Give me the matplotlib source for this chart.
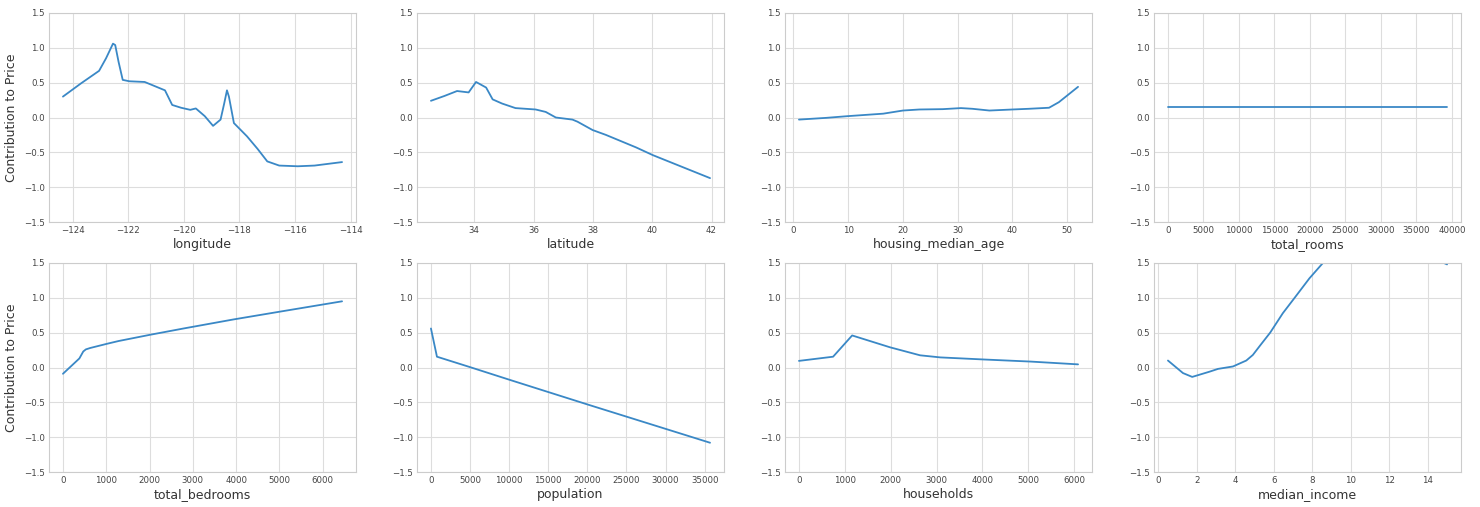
import matplotlib
matplotlib.use("Agg")
import matplotlib.pyplot as plt

# ---- data ----
longitude_x = [-124.35, -123.7, -123.05, -122.8, -122.55, -122.47, -122.35, -122.2, -121.96,
               -121.41, -120.68, -120.42, -120.1, -119.77, -119.57, -119.25, -118.95, -118.68,
               -118.55, -118.45, -118.38, -118.2, -117.73, -117.35, -117.0, -116.57, -115.9,
               -115.3, -114.31]
longitude_y = [0.30, 0.49, 0.67, 0.85, 1.06, 1.04, 0.80, 0.54, 0.52,
               0.51, 0.39, 0.18, 0.14, 0.11, 0.13, 0.02, -0.12, -0.03,
               0.20, 0.39, 0.30, -0.08, -0.27, -0.45, -0.63, -0.69, -0.70,
               -0.69, -0.64]

latitude_x = [32.54, 33.0, 33.42, 33.81, 34.06, 34.40, 34.62, 34.94, 35.39, 36.07, 36.41,
              36.75, 37.31, 37.48, 37.99, 38.44, 39.46, 40.02, 41.95]
latitude_y = [0.24, 0.31, 0.38, 0.36, 0.51, 0.43, 0.26, 0.20, 0.135, 0.115, 0.08,
              0.00, -0.03, -0.06, -0.18, -0.25, -0.43, -0.54, -0.87]

age_x = [1, 6, 10, 16.4, 20, 23, 27.3, 30.6, 32.7, 35.8, 40, 43, 46.7, 48.5, 52]
age_y = [-0.03, -0.005, 0.02, 0.055, 0.10, 0.115, 0.12, 0.135, 0.125, 0.10, 0.115, 0.125, 0.14, 0.22, 0.44]

rooms_x = [2, 39320]
rooms_y = [0.15, 0.15]

bedrooms_x = [1, 380, 470, 530, 630, 1015, 1285, 2015, 2785, 3940, 5090, 6445]
bedrooms_y = [-0.09, 0.13, 0.23, 0.26, 0.28, 0.34, 0.38, 0.47, 0.56, 0.69, 0.81, 0.95]

population_x = [3, 770, 5010, 10150, 20000, 35682]
population_y = [0.56, 0.155, 0.005, -0.18, -0.53, -1.08]

households_x = [1, 745, 1160, 1985, 2640, 3080, 4030, 5050, 6082]
households_y = [0.095, 0.155, 0.46, 0.29, 0.175, 0.145, 0.115, 0.085, 0.045]

income_x = [0.5, 1.28, 1.76, 2.66, 3.1, 3.88, 4.57, 4.91, 5.3, 5.81, 6.47, 7.08, 7.85, 8.55,
            10.0, 12.0, 14.0, 14.6, 15.0]
income_y = [0.10, -0.08, -0.135, -0.06, -0.02, 0.015, 0.10, 0.18, 0.32, 0.50, 0.78, 1.00, 1.28,
            1.50, 2.0, 2.1, 1.8, 1.53, 1.48]

features = ["longitude", "latitude", "housing_median_age", "total_rooms",
            "total_bedrooms", "population", "households", "median_income"]
series = [(longitude_x, longitude_y), (latitude_x, latitude_y), (age_x, age_y),
          (rooms_x, rooms_y), (bedrooms_x, bedrooms_y), (population_x, population_y),
          (households_x, households_y), (income_x, income_y)]
ylabel = "Contribution to Price"

plt.style.use("seaborn-v0_8-whitegrid")
plt.rcParams["font.family"] = ["DejaVu Sans"]

fig = plt.figure(figsize=(14.8, 5.07), dpi=100)
lefts = [49, 417, 785, 1154]
W, H = 1480, 507
rows = [(13, 222), (263, 472)]
line_color = "#3a88c6"

for i, (name, (xs, ys)) in enumerate(zip(features, series)):
    r, c = divmod(i, 4)
    top, bot = rows[r]
    ax = fig.add_axes([lefts[c] / W, 1 - bot / H, 307 / W, (bot - top) / H])
    ax.plot(xs, ys, color=line_color, lw=1.3)
    ax.set_ylim(-1.5, 1.5)
    ax.set_yticks([-1.5, -1.0, -0.5, 0.0, 0.5, 1.0, 1.5])
    ax.set_xlabel(name, fontsize=9, color="#333333", labelpad=2)
    if c == 0:
        ax.set_ylabel(ylabel, fontsize=9, color="#333333")
    ax.tick_params(labelsize=6.2, colors="#444444", pad=3)
    ax.grid(True, color="#dddddd", lw=0.8)
    for s in ax.spines.values():
        s.set_color("#cccccc")
        s.set_linewidth(0.8)

fig.savefig("out.png", dpi=100)
